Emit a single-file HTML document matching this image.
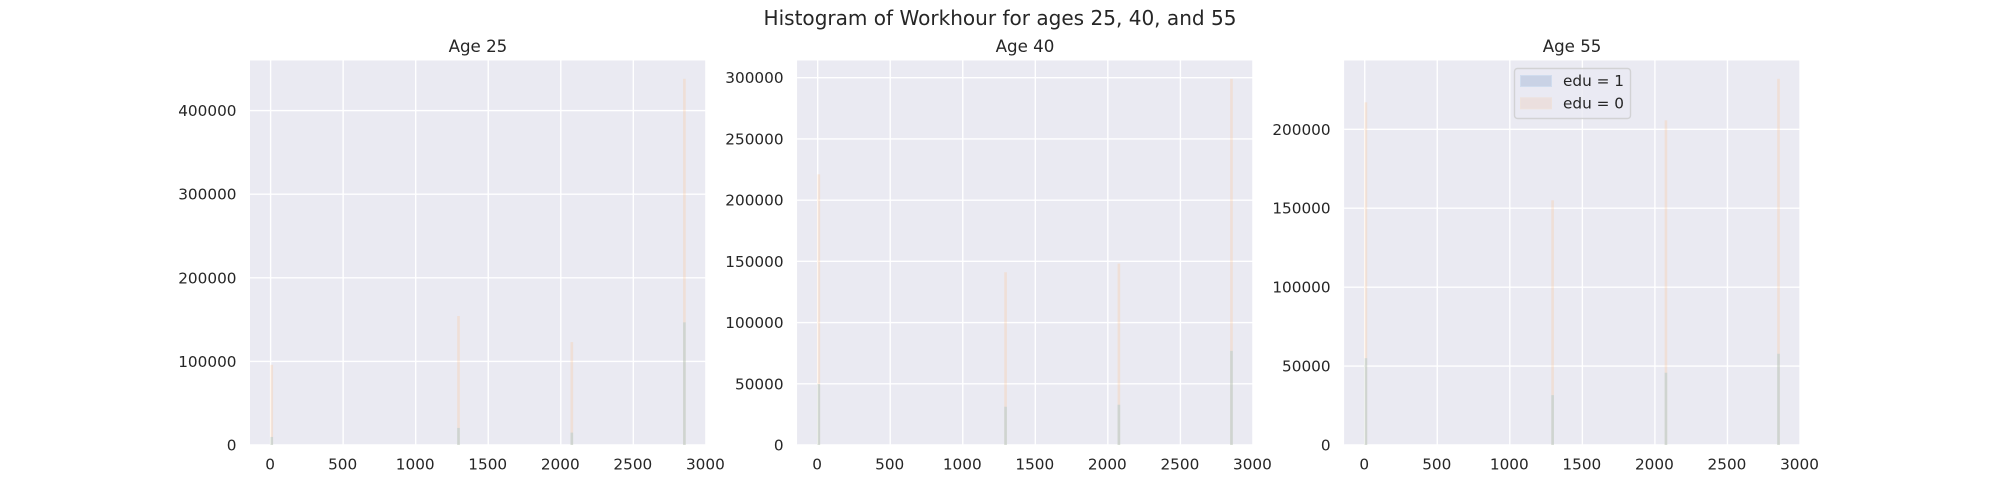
<!DOCTYPE html>
<html lang="en">
<head>
<meta charset="utf-8">
<title>Histogram of Workhour for ages 25, 40, and 55</title>
<style>
html,body{margin:0;padding:0;background:#fff;width:2000px;height:500px;overflow:hidden}
svg{display:block}
text{font-family:"DejaVu Sans","Liberation Sans",sans-serif;fill:#262626}
</style>
</head>
<body>
<svg id="chart" xmlns="http://www.w3.org/2000/svg" width="2000" height="500" viewBox="0 0 2000 500">
  <text x="1000" y="25" font-size="20.05" text-anchor="middle">Histogram of Workhour for ages 25, 40, and 55</text>
</svg>
<script>
const panelTitles = ['Age 25', 'Age 40', 'Age 55'];
const binCenters = [8, 1295, 2076, 2852];
const binWidth = 18;
const edu0Age25 = [95900, 154300, 123100, 438000];
const edu1Age25 = [9600, 20400, 14800, 146700];
const edu0Age40 = [221100, 141100, 148200, 299100];
const edu1Age40 = [49800, 31250, 32900, 76900];
const edu0Age55 = [217100, 155000, 205700, 232000];
const edu1Age55 = [55000, 31600, 45800, 57800];
const xTickLabels = [0, 500, 1000, 1500, 2000, 2500, 3000];
const yTicksAge25 = [0, 100000, 200000, 300000, 400000];
const yTicksAge40 = [0, 50000, 100000, 150000, 200000, 250000, 300000];
const yTicksAge55 = [0, 50000, 100000, 150000, 200000];
const xDomain = [-142, 3000];
const legendLabels = ['edu = 1', 'edu = 0'];

const NS = 'http://www.w3.org/2000/svg';
const svg = document.getElementById('chart');
const AX_TOP = 60.5, AX_BOTTOM = 445, AX_W = 455.88;
const panelLefts = [250, 797.06, 1344.12];
const seriesEdu0 = [edu0Age25, edu0Age40, edu0Age55];
const seriesEdu1 = [edu1Age25, edu1Age40, edu1Age55];
const yTickSets = [yTicksAge25, yTicksAge40, yTicksAge55];

function make(tag, attrs, text) {
  const el = document.createElementNS(NS, tag);
  for (const k in attrs) el.setAttribute(k, attrs[k]);
  if (text !== undefined) el.textContent = text;
  svg.appendChild(el);
  return el;
}

panelTitles.forEach(function (title, p) {
  const left = panelLefts[p];
  const edu0 = seriesEdu0[p];
  const edu1 = seriesEdu1[p];
  const maxV = Math.max.apply(null, edu0.concat(edu1));
  const yMax = maxV * 1.05;
  const xScale = v => left + (v - xDomain[0]) / (xDomain[1] - xDomain[0]) * AX_W;
  const yScale = v => AX_BOTTOM - v / yMax * (AX_BOTTOM - AX_TOP);
  const slug = title.toLowerCase().replace(' ', '-');

  const bg = make('rect', {x: left, y: AX_TOP, width: AX_W, height: AX_BOTTOM - AX_TOP, fill: '#eaeaf2'});
  
  

  const t = make('text', {x: left + AX_W / 2, y: 52, 'font-size': 16.67, 'text-anchor': 'middle'}, title);
  
  

  xTickLabels.forEach(function (v) {
    const x = xScale(v);
    const g = make('line', {x1: x, x2: x, y1: AX_TOP, y2: AX_BOTTOM, stroke: '#fff', 'stroke-width': 1.39});
    
    
    const l = make('text', {x: x - 0.5, y: 469.5, 'font-size': 15.28, 'text-anchor': 'middle'}, String(v));
    
    
  });

  yTickSets[p].forEach(function (v) {
    const y = yScale(v);
    const g = make('line', {x1: left, x2: left + AX_W, y1: y, y2: y, stroke: '#fff', 'stroke-width': 1.39});
    
    
    const l = make('text', {x: left - 13.5, y: y + 5.5, 'font-size': 15.28, 'text-anchor': 'end'}, String(v));
    
    
  });

  binCenters.forEach(function (c, i) {
    const x0 = xScale(c - binWidth / 2);
    const w = xScale(c + binWidth / 2) - x0;
    const b0 = make('rect', {x: x0, y: yScale(edu0[i]), width: w, height: AX_BOTTOM - yScale(edu0[i]), fill: 'rgb(255,190,129)', 'fill-opacity': 0.24});
    
    
    const b1 = make('rect', {x: x0, y: yScale(edu1[i]), width: w, height: AX_BOTTOM - yScale(edu1[i]), fill: 'rgb(150,193,198)', 'fill-opacity': 0.36});
    
    
  });
});

const legendBox = make('rect', {x: 1514.5, y: 68.5, width: 116, height: 50, rx: 3, ry: 3, fill: '#eaeaf2', 'fill-opacity': 0.8, stroke: '#cccccc', 'stroke-opacity': 0.8, 'stroke-width': 1.39});



const legendFills = ['#c9d2e5', '#ebdfde'];
const legendEdges = ['#d0dcee', '#eee2dd'];
legendLabels.forEach(function (label, i) {
  const top = 75 + i * 22.3;
  const s = make('rect', {x: 1520.5, y: top + 0.5, width: 31, height: 11, fill: legendFills[i], stroke: legendEdges[i], 'stroke-width': 1});
  
  
  const t = make('text', {x: 1563, y: top + 11, 'font-size': 15.28}, label);
  
  
});
</script>
</body>
</html>
